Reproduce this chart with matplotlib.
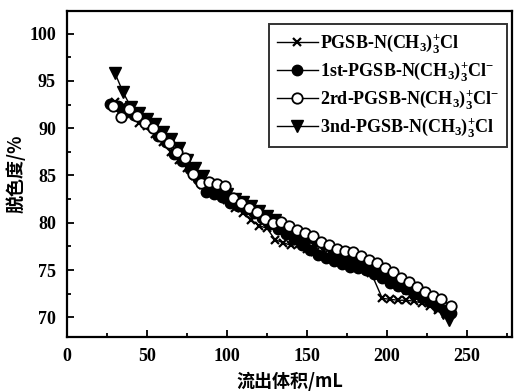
import matplotlib
matplotlib.use("Agg")
import matplotlib.pyplot as plt
from matplotlib.ticker import MultipleLocator

plt.rcParams["mathtext.fontset"] = "custom"
plt.rcParams["mathtext.rm"] = "Liberation Serif:bold"
plt.rcParams["mathtext.it"] = "Liberation Serif:bold"
plt.rcParams["mathtext.bf"] = "Liberation Serif:bold"
plt.rcParams["mathtext.default"] = "rm"

# ---- data ----
labels = [r"PGSB-N(CH$_3$)$_3^{+}$Cl",
          r"1st-PGSB-N(CH$_3$)$_3^{+}$Cl$^{-}$",
          r"2rd-PGSB-N(CH$_3$)$_3^{+}$Cl$^{-}$",
          r"3nd-PGSB-N(CH$_3$)$_3^{+}$Cl"]

x0 = [30,35,40,45,50,55,60,65,70,75,80,85,90,95,100,105,110,115,120,125,130,135,140,145,150,
      155,160,165,170,175,180,185,190,197,202,207,212,217,222,227,232,237]
y0 = [92.8,92.3,91.5,90.6,90.2,89.4,88.5,87.5,86.6,85.8,84.9,84.0,83.5,82.9,82.4,81.6,81.0,80.3,
      79.7,79.4,78.2,77.9,77.6,77.8,77.2,76.9,76.6,76.2,75.9,75.6,75.5,75.2,74.7,72.0,71.9,71.8,
      71.8,71.7,71.5,71.2,70.8,70.3]

x1 = [27,32,37,42,47,52,57,62,67,72,77,82,87,92,97,102,107,112,117,122,127,132,137,142,147,152,
      157,162,167,172,177,182,187,192,197,202,207,212,217,222,227,232,237,240]
y1 = [92.6,92.3,91.8,91.4,91.0,90.3,89.2,88.5,87.3,86.5,85.7,84.6,83.2,83.0,82.7,82.1,81.8,81.5,
      81.0,80.5,79.9,79.3,78.8,78.3,77.6,77.1,76.6,76.3,75.9,75.6,75.3,75.2,75.0,74.6,74.2,73.6,
      73.3,73.0,72.5,72.1,71.7,71.2,70.8,70.5]

x2 = [29,34,39,44,49,54,59,64,69,74,79,84,89,94,99,104,109,114,119,124,129,134,139,144,149,154,
      159,164,169,174,179,184,189,194,199,204,209,214,219,224,229,234,240]
y2 = [92.3,91.2,92.0,91.3,90.5,90.0,89.2,88.4,87.5,86.8,85.2,84.2,84.3,84.1,83.9,82.6,82.1,81.6,
      81.1,80.4,80.0,80.1,79.7,79.2,78.9,78.6,78.0,77.6,77.2,77.0,76.9,76.5,76.1,75.7,75.2,74.8,
      74.2,73.7,73.2,72.7,72.3,71.9,71.2]

x3 = [30,35,40,45,50,55,60,65,70,75,80,85,90,95,100,105,110,115,120,125,130,135,140,145,150,155,
      160,165,170,175,180,185,190,195,200,205,210,215,220,225,230,235,239]
y3 = [95.8,93.8,92.2,91.6,91.0,90.4,89.6,88.9,87.9,86.6,85.8,84.9,84.0,83.6,83.0,82.5,82.2,81.8,
      81.2,80.7,80.3,79.6,79.0,78.5,78.0,77.7,77.4,76.9,76.4,76.0,75.6,75.2,74.9,74.5,74.0,73.5,
      73.1,72.6,72.2,71.7,71.1,70.4,69.7]

xticks = [0, 50, 100, 150, 200, 250]
yticks = [70, 75, 80, 85, 90, 95, 100]

# ---- figure ----
fig = plt.figure(figsize=(5.16, 3.92), dpi=100)
ax = fig.add_axes([0.130, 0.140, 0.862, 0.832])

serif = ["Liberation Serif", "DejaVu Serif"]
cjk = ["Noto Sans CJK SC", "DejaVu Sans"]

l0, = ax.plot(x0, y0, color="black", lw=1.0, marker="x", ms=6, mew=1.6, zorder=3)
l1, = ax.plot(x1, y1, color="black", lw=1.0, marker="o", ms=7.5, mfc="black", mec="black", zorder=3)
l3, = ax.plot(x3, y3, color="black", lw=1.0, marker="v", ms=8, mfc="black", mec="black", zorder=3)
l2, = ax.plot(x2, y2, color="black", lw=1.0, marker="o", ms=7.5, mfc="white", mec="black", mew=1.3, zorder=4)

ax.set_xlim(0, 278)
ax.set_ylim(67.9, 102.4)
ax.set_xticks(xticks)
ax.set_yticks(yticks)
ax.xaxis.set_minor_locator(MultipleLocator(25))
ax.yaxis.set_minor_locator(MultipleLocator(2.5))
ax.tick_params(which="both", direction="in", top=False, right=False, width=1.3)
ax.tick_params(which="major", length=5, pad=8)
ax.tick_params(which="minor", length=3)
for lab in ax.get_xticklabels() + ax.get_yticklabels():
    lab.set_family(serif)
    lab.set_fontweight("bold")
    lab.set_fontsize(13)
for s in ax.spines.values():
    s.set_linewidth(1.6)

ax.set_xlabel("流出体积/mL", family=cjk, fontweight="bold", fontsize=13, labelpad=5)
ax.set_ylabel("脱色度/%", family=cjk, fontweight="bold", fontsize=13, labelpad=3)

leg = ax.legend([l0, l1, l2, l3], labels, loc="upper right",
                bbox_to_anchor=(0.99, 0.96), borderaxespad=0.0,
                frameon=True, fancybox=False,
                edgecolor="black", handlelength=2.3, handletextpad=0.1,
                borderpad=0.45, labelspacing=0.3,
                prop={"family": serif, "size": 13, "weight": "bold"})
leg.get_frame().set_linewidth(1.4)

fig.savefig("out.png", dpi=100)
